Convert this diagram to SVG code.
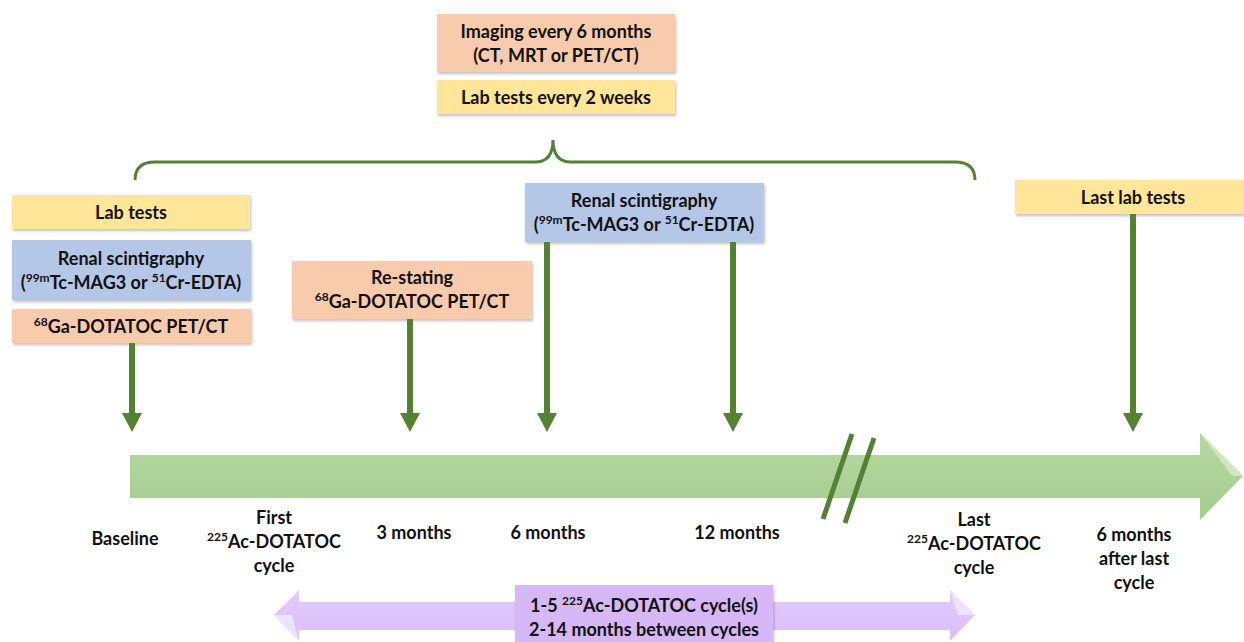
<svg xmlns="http://www.w3.org/2000/svg" width="1244" height="642" viewBox="0 0 1244 642">
<defs>
<style>
.t{font-family:Lato,"Open Sans","Liberation Sans",sans-serif;font-weight:bold;font-size:18px;fill:#111;text-anchor:middle}
.s{font-size:12px}
.yel{fill:#FFE699}
.blu{fill:#B4C7E7}
.ora{fill:#F8CBAD}
.box{filter:url(#sh)}
.con{stroke:#548235;stroke-width:6;fill:none}
.head{fill:#548235}
</style>
<filter id="sh" x="-5%" y="-10%" width="110%" height="130%">
<feDropShadow dx="1" dy="2" stdDeviation="1.5" flood-color="#000" flood-opacity="0.25"/>
</filter>
<linearGradient id="gg" x1="0" y1="0" x2="0" y2="1">
<stop offset="0" stop-color="#B5D8A0"/>
<stop offset="1" stop-color="#A6CC8F"/>
</linearGradient>
<linearGradient id="pg" x1="0" y1="0" x2="0" y2="1">
<stop offset="0" stop-color="#E2CCFA"/>
<stop offset="1" stop-color="#D9BFF7"/>
</linearGradient>
</defs>
<rect width="1244" height="642" fill="#fff"/>

<g id="timeline">
<path d="M130,455 L1200,455 L1200,433 L1243,476 L1200,520 L1200,498 L130,498 Z" fill="url(#gg)"/>
<path d="M1200,433 L1243,476 L1232,476 Z" fill="#D4EDC4" opacity="0.8"/>
<line x1="823" y1="519" x2="852" y2="434" stroke="#548235" stroke-width="5"/>
<line x1="845" y1="523" x2="874" y2="438" stroke="#548235" stroke-width="5"/>
</g>

<g id="brace">
<path d="M135,180 Q135,162 155,162 L535,162 Q553,162 553,140 Q553,162 571,162 L955,162 Q975,162 975,180" fill="none" stroke="#548235" stroke-width="3"/>
</g>

<g id="cycles-arrow">
<path d="M274,615 L299,590 L299,602 L950,602 L950,590 L975,615 L950,641 L950,630 L299,630 L299,641 Z" fill="url(#pg)"/>
<path d="M274,615 L299,641 L292,615 Z" fill="#F3E8FF" opacity="0.8"/>
<path d="M975,615 L950,590 L958,615 Z" fill="#F3E8FF" opacity="0.8"/>
</g>

<g id="cycles-box">
<rect x="515" y="585" width="258" height="57" fill="#D6B8F6" class="box"/>
<text class="t" x="644" y="612">1-5 <tspan class="s" dy="-7">225</tspan><tspan dy="7">Ac-DOTATOC cycle(s)</tspan></text>
<text class="t" x="644" y="636">2-14 months between cycles</text>
</g>

<g id="lab-tests">
<rect x="12" y="195" width="238" height="34" class="yel box"/>
<text class="t" x="131" y="219">Lab tests</text>
</g>
<g id="renal-baseline">
<rect x="12" y="240" width="239" height="60" class="blu box"/>
<text class="t" x="131" y="265">Renal scintigraphy</text>
<text class="t" x="131" y="289">(<tspan class="s" dy="-7">99m</tspan><tspan dy="7">Tc-MAG3 or </tspan><tspan class="s" dy="-7">51</tspan><tspan dy="7">Cr-EDTA)</tspan></text>
</g>
<g id="pet-baseline">
<rect x="12" y="309" width="239" height="34" class="ora box"/>
<text class="t" x="131" y="333"><tspan class="s" dy="-7">68</tspan><tspan dy="7">Ga-DOTATOC PET/CT</tspan></text>
</g>
<g id="restaging">
<rect x="292" y="261" width="240" height="58" class="ora box"/>
<text class="t" x="412" y="284">Re-stating</text>
<text class="t" x="412" y="308"><tspan class="s" dy="-7">68</tspan><tspan dy="7">Ga-DOTATOC PET/CT</tspan></text>
</g>
<g id="renal-mid">
<rect x="525" y="183" width="239" height="59" class="blu box"/>
<text class="t" x="644" y="207">Renal scintigraphy</text>
<text class="t" x="644" y="231">(<tspan class="s" dy="-7">99m</tspan><tspan dy="7">Tc-MAG3 or </tspan><tspan class="s" dy="-7">51</tspan><tspan dy="7">Cr-EDTA)</tspan></text>
</g>
<g id="imaging">
<rect x="437" y="14" width="238" height="58" class="ora box"/>
<text class="t" x="556" y="38">Imaging every 6 months</text>
<text class="t" x="556" y="62">(CT, MRT or PET/CT)</text>
</g>
<g id="lab-2weeks">
<rect x="437" y="80" width="238" height="34" class="yel box"/>
<text class="t" x="556" y="104">Lab tests every 2 weeks</text>
</g>
<g id="last-lab">
<rect x="1015" y="180" width="229" height="34" class="yel box"/>
<text class="t" x="1133" y="204">Last lab tests</text>
</g>

<g id="connectors">
<line x1="132" y1="343" x2="132" y2="414" class="con"/>
<path d="M122,413 L142,413 L132,432 Z" class="head"/>
<line x1="410" y1="319" x2="410" y2="414" class="con"/>
<path d="M400,413 L420,413 L410,432 Z" class="head"/>
<line x1="547" y1="242" x2="547" y2="414" class="con"/>
<path d="M537,413 L557,413 L547,432 Z" class="head"/>
<line x1="733" y1="242" x2="733" y2="414" class="con"/>
<path d="M723,413 L743,413 L733,432 Z" class="head"/>
<line x1="1133" y1="214" x2="1133" y2="414" class="con"/>
<path d="M1123,413 L1143,413 L1133,432 Z" class="head"/>
</g>

<g id="labels">
<text class="t" x="125" y="545">Baseline</text>
<text class="t" x="274" y="524">First</text>
<text class="t" x="274" y="548"><tspan class="s" dy="-7">225</tspan><tspan dy="7">Ac-DOTATOC</tspan></text>
<text class="t" x="274" y="572">cycle</text>
<text class="t" x="414" y="539">3 months</text>
<text class="t" x="548" y="539">6 months</text>
<text class="t" x="737" y="539">12 months</text>
<text class="t" x="974" y="526">Last</text>
<text class="t" x="974" y="550"><tspan class="s" dy="-7">225</tspan><tspan dy="7">Ac-DOTATOC</tspan></text>
<text class="t" x="974" y="574">cycle</text>
<text class="t" x="1134" y="541">6 months</text>
<text class="t" x="1134" y="565">after last</text>
<text class="t" x="1134" y="589">cycle</text>
</g>
</svg>
